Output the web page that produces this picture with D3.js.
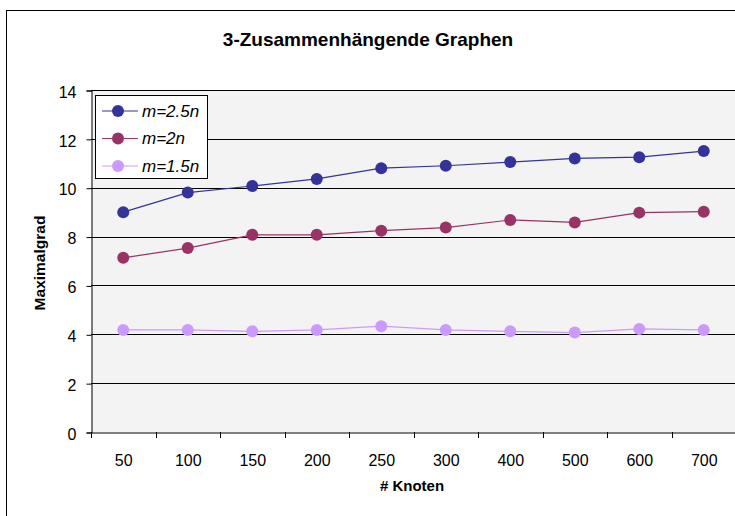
<!DOCTYPE html>
<html><head><meta charset="utf-8">
<script src="https://cdn.jsdelivr.net/npm/d3@7"></script>
<style>html,body{margin:0;padding:0;background:#fff;overflow:hidden}svg{display:block}</style>
</head><body>
<script>
const categories = ["50","100","150","200","250","300","400","500","600","700"];
const seriesNames = ["m=2.5n","m=2n","m=1.5n"];
const m25 = [9.0, 9.8, 10.07, 10.36, 10.8, 10.9, 11.05, 11.2, 11.25, 11.5];
const m20 = [7.13, 7.53, 8.07, 8.07, 8.24, 8.37, 8.68, 8.58, 8.98, 9.02];
const m15 = [4.18, 4.18, 4.12, 4.18, 4.33, 4.18, 4.12, 4.07, 4.22, 4.18];
const yTicks = [0,2,4,6,8,10,12,14];
const colors = ["#333399","#993366","#cc99ff"];
const series = [m25, m20, m15];

(function(){
const W = 735, H = 516;
const svg = d3.select("body").append("svg").attr("width", W).attr("height", H);
const font = "Liberation Sans, Arial, sans-serif";

svg.append("rect").attr("x",6.5).attr("y",10.5).attr("width",760).attr("height",540)
  .attr("fill","#fff").attr("stroke","#000").attr("stroke-width",1);

const pL = 91, pR = 736, pT = 90, pB = 432;
const x = d3.scaleBand().domain(categories).range([pL, pR]);
const y = d3.scaleLinear().domain([0,14]).range([pB, pT]);

svg.append("rect").attr("x",pL).attr("y",pT).attr("width",pR-pL).attr("height",pB-pT)
  .attr("fill","#f3f3f3");

svg.append("g").selectAll("line").data(yTicks.filter(d=>d>0)).join("line")
  .attr("x1",pL).attr("x2",pR).attr("y1",d=>Math.round(y(d))+0.5).attr("y2",d=>Math.round(y(d))+0.5)
  .attr("stroke","#000").attr("stroke-width",1);

const yAxis = svg.append("g").attr("transform",`translate(${pL+0.5},0.5)`)
  .call(d3.axisLeft(y).tickValues(yTicks).tickSize(5).tickPadding(10));
yAxis.select(".domain").attr("stroke","#000");
yAxis.selectAll("text").attr("font-family",font).attr("font-size",16).attr("fill","#000").attr("dy","0.42em");

const xAxis = svg.append("g").attr("transform",`translate(0.5,${pB+0.5})`)
  .call(d3.axisBottom(x).tickSize(0));
xAxis.select(".domain").attr("stroke","#000");
xAxis.selectAll("text").attr("font-family",font).attr("font-size",16).attr("fill","#000")
  .attr("y",33).attr("dy",0);
svg.append("g").selectAll("line").data(categories).join("line")
  .attr("x1",d=>Math.round(x(d))+0.5).attr("x2",d=>Math.round(x(d))+0.5)
  .attr("y1",pB).attr("y2",pB+6).attr("stroke","#000");

const line = d3.line().x((d,i)=>x(categories[i])+x.bandwidth()/2).y(d=>y(d));
series.forEach((s,k)=>{
  svg.append("path").datum(s).attr("d",line).attr("fill","none")
    .attr("stroke",colors[k]).attr("stroke-width",1.2);
  svg.append("g").selectAll("circle").data(s).join("circle")
    .attr("cx",(d,i)=>x(categories[i])+x.bandwidth()/2).attr("cy",d=>y(d))
    .attr("r",6).attr("fill",colors[k]);
});

svg.append("text").attr("x",368).attr("y",46).attr("text-anchor","middle")
  .attr("font-family",font).attr("font-weight","bold").attr("font-size",19).text("3-Zusammenhängende Graphen");

svg.append("text").attr("x",412).attr("y",491).attr("text-anchor","middle")
  .attr("font-family",font).attr("font-weight","bold").attr("font-size",15).text("# Knoten");
svg.append("text").attr("transform","translate(45,263) rotate(-90)").attr("text-anchor","middle")
  .attr("font-family",font).attr("font-weight","bold").attr("font-size",15.5).text("Maximalgrad");

const lg = svg.append("g");
lg.append("rect").attr("x",95.5).attr("y",95.5).attr("width",112).attr("height",83)
  .attr("fill","#fff").attr("stroke","#000");
seriesNames.forEach((n,k)=>{
  const yy = 111 + k*27.5;
  lg.append("line").attr("x1",102).attr("x2",138).attr("y1",yy).attr("y2",yy)
    .attr("stroke",colors[k]).attr("stroke-width",1.2);
  lg.append("circle").attr("cx",118).attr("cy",yy).attr("r",6).attr("fill",colors[k]);
  lg.append("text").attr("x",142).attr("y",yy+5.5).attr("font-family",font)
    .attr("font-style","italic").attr("font-size",17).text(n);
});
})();
</script>
</body></html>
